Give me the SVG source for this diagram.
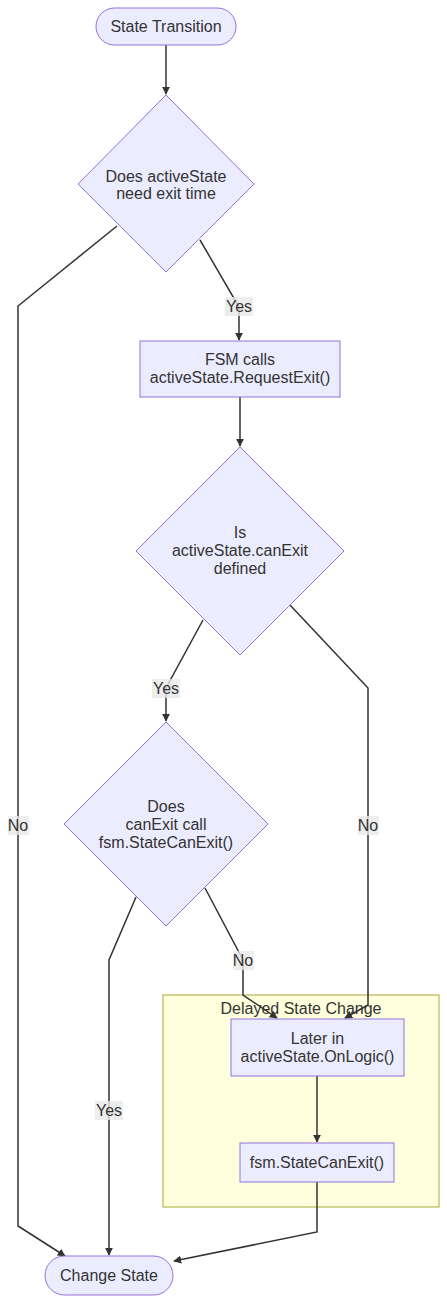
<svg xmlns="http://www.w3.org/2000/svg" width="447" height="1303" viewBox="0 0 447 1303">
<style>
.n{fill:#ECECFF;stroke:#9370DB;stroke-width:1}
.t{font-family:"Liberation Sans",Arial,sans-serif;font-size:16px;fill:#333;text-anchor:middle}
.e{fill:none;stroke:#333;stroke-width:1.5}
.lb{fill:#e8e8e8;opacity:0.8}
.c{fill:#ffffde;stroke:#aaaa33;stroke-width:1}
</style>
<defs>
<marker id="a" viewBox="0 0 10 10" refX="9" refY="5" markerWidth="8" markerHeight="8" orient="auto" markerUnits="userSpaceOnUse">
<path d="M0,0 L10,5 L0,10 z" fill="#333"/>
</marker>
</defs>
<g id="cluster">
<rect class="c" x="163" y="995" width="276" height="212"/>
<text class="t" x="301" y="1014">Delayed State Change</text>
</g>
<g id="connectors">
<path class="e" d="M166,45 L166,94" marker-end="url(#a)"/>
<path class="e" d="M200,240 L239,307 L239,340" marker-end="url(#a)"/>
<path class="e" d="M117,226 L18,306 L18,1226 L65,1256" marker-end="url(#a)"/>
<path class="e" d="M240,397 L240,446" marker-end="url(#a)"/>
<path class="e" d="M203,620 L166,688 L166,721" marker-end="url(#a)"/>
<path class="e" d="M290,605 L368,688 L368,1005 L345,1018" marker-end="url(#a)"/>
<path class="e" d="M205,888 L243,960 L243,995 L277,1018" marker-end="url(#a)"/>
<path class="e" d="M136,897 L109,960 L109,1255" marker-end="url(#a)"/>
<path class="e" d="M317,1076 L317,1142" marker-end="url(#a)"/>
<path class="e" d="M317,1182 L317,1232 L174,1261" marker-end="url(#a)"/>
</g>
<g id="labels">
<rect class="lb" x="225" y="297" width="28" height="19"/><text class="t" x="239" y="312">Yes</text>
<rect class="lb" x="8" y="816" width="21" height="19"/><text class="t" x="18" y="831">No</text>
<rect class="lb" x="152" y="679" width="28" height="19"/><text class="t" x="166" y="694">Yes</text>
<rect class="lb" x="358" y="816" width="21" height="19"/><text class="t" x="368" y="831">No</text>
<rect class="lb" x="233" y="951" width="21" height="19"/><text class="t" x="243" y="966">No</text>
<rect class="lb" x="95" y="1101" width="28" height="19"/><text class="t" x="109" y="1116">Yes</text>
</g>
<g id="start">
<rect class="n" x="96" y="8" width="140" height="37" rx="18.5"/>
<text class="t" x="166" y="32">State Transition</text>
</g>
<g id="d1">
<polygon class="n" points="166,95 254,184 166,272 78,184"/>
<text class="t" x="166" y="182">Does activeState</text>
<text class="t" x="166" y="199">need exit time</text>
</g>
<g id="r1">
<rect class="n" x="140" y="341" width="200" height="56"/>
<text class="t" x="240" y="365">FSM calls</text>
<text class="t" x="240" y="383">activeState.RequestExit()</text>
</g>
<g id="d2">
<polygon class="n" points="240,447 344,551 240,655 136,551"/>
<text class="t" x="240" y="538">Is</text>
<text class="t" x="240" y="556">activeState.canExit</text>
<text class="t" x="240" y="574">defined</text>
</g>
<g id="d3">
<polygon class="n" points="166,722 268,824 166,926 64,824"/>
<text class="t" x="166" y="812">Does</text>
<text class="t" x="166" y="830">canExit call</text>
<text class="t" x="166" y="848">fsm.StateCanExit()</text>
</g>
<g id="later">
<rect class="n" x="231" y="1019" width="173" height="57"/>
<text class="t" x="317.5" y="1044">Later in</text>
<text class="t" x="317.5" y="1062">activeState.OnLogic()</text>
</g>
<g id="canexit">
<rect class="n" x="240" y="1143" width="154" height="39"/>
<text class="t" x="317" y="1168">fsm.StateCanExit()</text>
</g>
<g id="end">
<rect class="n" x="45" y="1256" width="128" height="39" rx="19.5"/>
<text class="t" x="109" y="1281">Change State</text>
</g>
</svg>
